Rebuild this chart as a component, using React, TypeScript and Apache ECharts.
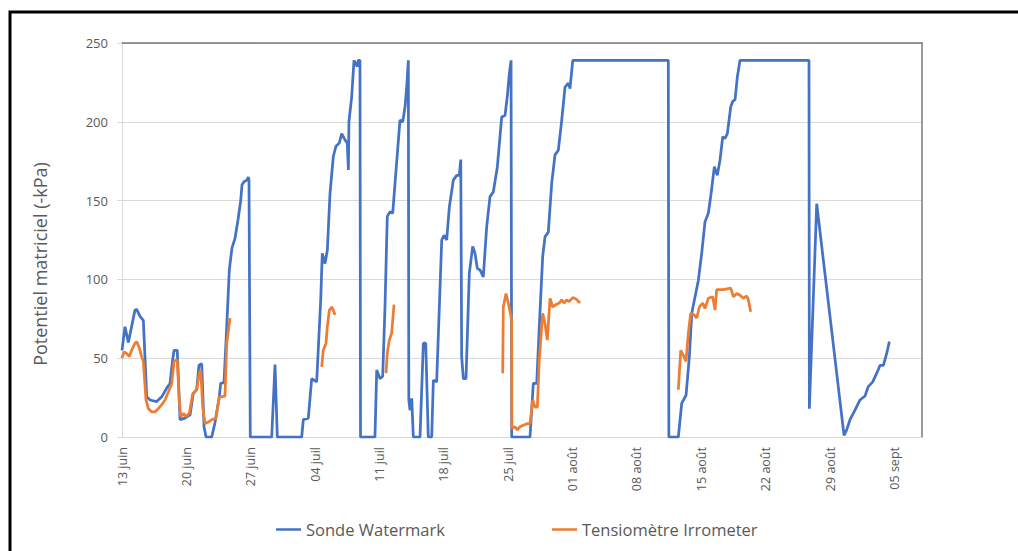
import React, { useEffect, useRef } from "react";
import * as echarts from "echarts";

// Week tick labels, one every 7 days starting 13 June
const dateLabels = [
  "13 juin", "20 juin", "27 juin", "04 juil", "11 juil", "18 juil", "25 juil",
  "01 août", "08 août", "15 août", "22 août", "29 août", "05 sept",
];

// Watermark sensor: time in days since 13 June, matric potential in -kPa
const watermarkDays = [
  0.0, 0.33, 0.69, 1.41, 1.6, 1.96, 2.32, 2.69, 3.05, 3.77, 4.32, 4.86, 5.22, 5.51, 5.66, 6.01,
  6.31, 6.85, 7.4, 7.75, 8.12, 8.37, 8.67, 8.92, 9.14, 9.76, 10.11, 10.58, 10.73, 11.09, 11.39,
  11.67, 11.96, 12.29, 12.62, 12.91, 13.05, 13.27, 13.59, 13.74, 13.81, 13.95, 16.28, 16.64,
  16.89, 19.54, 19.72, 20.26, 20.63, 21.17, 21.61, 21.78, 22.08, 22.33, 22.62, 22.98, 23.27,
  23.63, 23.89, 24.25, 24.5, 24.62, 24.68, 24.98, 25.23, 25.59, 25.7, 25.88, 25.94, 27.51,
  27.7, 28.06, 28.35, 28.6, 28.85, 29.15, 29.44, 29.69, 30.23, 30.53, 30.78, 30.96, 31.14,
  31.19, 31.32, 31.51, 31.68, 32.41, 32.77, 33.03, 33.31, 33.68, 33.86, 34.22, 34.51, 34.77,
  35.02, 35.31, 35.6, 36.03, 36.4, 36.68, 36.84, 36.94, 37.12, 37.41, 37.77, 38.14, 38.39,
  38.64, 38.93, 39.29, 39.66, 40.02, 40.38, 40.82, 41.29, 41.65, 41.9, 42.12, 42.31, 42.38,
  44.37, 44.73, 45.1, 45.38, 45.75, 46.0, 46.36, 46.73, 47.09, 47.45, 47.82, 48.18, 48.54,
  48.72, 49.02, 59.41, 59.47, 60.5, 60.87, 61.34, 61.7, 61.96, 62.32, 62.68, 63.04, 63.4,
  63.76, 64.02, 64.42, 64.74, 65.04, 65.33, 65.58, 65.83, 66.2, 66.42, 66.67, 66.92, 67.21,
  74.71, 74.75, 75.55, 78.52, 78.81, 79.17, 79.71, 80.26, 80.8, 81.16, 81.64, 82.08, 82.44,
  82.8, 83.16, 83.45,
];
const watermarkKpa = [
  55, 70, 60, 80.5, 81, 76.5, 74, 25.5, 23.5, 22.5, 25.5, 31, 34, 49, 55, 55,
  11, 12, 14, 27.5, 30, 45.5, 46.5, 6.5, 0, 0, 9, 25.5, 34, 34.5, 70,
  106, 120, 126, 138, 150, 160, 162, 163, 165, 163, 0, 0, 46,
  0, 0, 11, 12, 37, 35, 87, 116.5, 110, 118.5, 154.5, 178, 184.5,
  186.5, 192.5, 188.5, 186.5, 169.5, 200, 216, 239, 235, 239, 239, 0, 0,
  42.5, 37, 38.5, 82.5, 140, 143, 142, 161, 201, 200, 209.5, 222, 239,
  23.5, 17, 24.5, 0, 0, 59.5, 59.5, 0, 0, 36, 35, 82.5, 125,
  128, 125, 146, 163, 166, 166, 176, 51, 37, 37, 104, 121, 116.5,
  107, 106, 101.5, 133.5, 152.5, 155.5, 171.5, 203, 204, 216, 230.5, 239, 0,
  0, 34, 34, 70, 114.5, 127, 130, 161, 179, 182, 201, 222, 224.5,
  221, 239, 239, 0, 0, 21.5, 26.5, 51, 78.5, 89, 99.5, 116.5, 136.5,
  142, 152.5, 171.5, 166, 176, 190.5, 189.5, 192.5, 209.5, 213, 214, 228.5, 239,
  239, 18, 148, 1, 4.5, 11, 17, 23.5, 26, 32, 35, 40.5, 45.5,
  45.5, 53, 60.5,
];

// Irrometer tensiometer: same time base, null marks a break in the record
const irrometerDays = [
  0.0, 0.22, 0.51, 0.79, 1.05, 1.41, 1.6, 1.88, 2.14, 2.32, 2.61, 2.86, 3.23, 3.59, 3.95, 4.32,
  4.68, 5.04, 5.41, 5.66, 6.01, 6.23, 6.38, 6.67, 6.96, 7.32, 7.69, 8.12, 8.41, 8.56, 8.78,
  9.03, 9.39, 9.76, 10.22, 10.58, 10.73, 11.2, 11.39, 11.75,
  16.0,
  21.72, 21.89, 22.19, 22.33, 22.55, 22.81, 22.98, 23.16,
  26.0,
  28.71, 28.85, 29.07, 29.33, 29.58,
  35.0,
  41.4, 41.47, 41.76, 42.01, 42.38, 42.4, 42.74, 42.99, 43.28, 43.64, 44.08, 44.37, 44.67,
  44.92, 45.17, 45.38, 45.75, 46.0, 46.25, 46.55, 46.84, 47.2, 47.56, 47.82, 48.07, 48.36,
  48.65, 49.02, 49.37, 49.81,
  55.0,
  60.5, 60.76, 61.04, 61.34, 61.59, 61.85, 62.21, 62.5, 62.79, 63.15, 63.4, 63.76, 64.24,
  64.49, 64.67, 65.39, 66.2, 66.49, 66.86, 67.21, 67.57, 67.94, 68.12, 68.37,
];
const irrometerKpa: (number | null)[] = [
  50, 54, 53, 51, 55, 59.5, 60.5, 56.5, 51, 48, 23.5, 18, 16, 16, 18, 20.5,
  23.5, 28.5, 34, 48, 49, 23.5, 13, 15, 13, 15, 27.5, 30, 40.5, 42.5, 19,
  8.5, 9.5, 11, 12, 25.5, 25.5, 26, 59.5, 75.5,
  null,
  44.5, 55, 59.5, 70, 80.5, 82.5, 80.5, 77.5,
  null,
  40.5, 53, 61.5, 66, 84,
  null,
  40.5, 82.5, 91, 85, 74, 5.5, 6.5, 4.5, 6.5, 7.5, 8.5, 8.5, 23.5,
  19, 19, 49, 78.5, 72, 61.5, 88, 82.5, 84, 85, 87, 85, 87,
  86, 88.5, 87.5, 85,
  null,
  30, 55, 52, 48, 66, 78.5, 77.5, 75.5, 82.5, 85, 81.5, 88, 89,
  80.5, 93.5, 93.5, 94.5, 89, 91, 90, 88, 89.5, 87, 79.5,
];

const seriesNames = ["Sonde Watermark", "Tensiomètre Irrometer"];
const axisTitle = "Potentiel matriciel (-kPa)";

const FONT = "'Open Sans', 'Noto Sans', sans-serif";
const TEXT = "#595959";
const BLUE = "#4472C4";
const ORANGE = "#ED7D31";

export default function App() {
  const ref = useRef<HTMLDivElement>(null);

  useEffect(() => {
    const chart = echarts.init(ref.current!, null, { renderer: "svg" });

    const watermark = watermarkDays.map((d, i) => [d, watermarkKpa[i]]);
    const irrometer = irrometerDays.map((d, i) => [d, irrometerKpa[i]]);

    const xMin = 0;
    const xMax = 87;

    const legendText = { color: TEXT, fontFamily: FONT, fontSize: 16.5 };

    chart.setOption({
      animation: false,
      backgroundColor: "#ffffff",
      grid: { left: 122, right: 96, top: 43, bottom: 114, containLabel: false },
      xAxis: [
        {
          type: "value",
          min: xMin,
          max: xMax,
          interval: 7,
          axisLine: { show: true, lineStyle: { color: "#d9d9d9", width: 1 } },
          axisTick: { show: false },
          splitLine: { show: false },
          axisLabel: {
            rotate: 90,
            margin: 10,
            color: TEXT,
            fontFamily: FONT,
            fontSize: 12.5,
            showMaxLabel: false,
            formatter: (v: number) =>
              v % 7 === 0 && dateLabels[v / 7] !== undefined ? dateLabels[v / 7] : "",
          },
        },
        {
          type: "value",
          position: "top",
          min: xMin,
          max: xMax,
          axisLine: { show: true, onZero: false, lineStyle: { color: "#7a7a7a", width: 1.5 } },
          axisTick: { show: false },
          axisLabel: { show: false },
          splitLine: { show: false },
        },
      ],
      yAxis: [
        {
          type: "value",
          min: 0,
          max: 250,
          interval: 50,
          axisLine: { show: true, lineStyle: { color: "#d9d9d9", width: 1 } },
          axisTick: { show: true, length: 5, lineStyle: { color: "#d9d9d9" } },
          splitLine: { show: true, lineStyle: { color: "#d9d9d9", width: 1 } },
          axisLabel: { color: TEXT, fontFamily: FONT, fontSize: 13, margin: 14 },
        },
        {
          type: "value",
          position: "right",
          min: 0,
          max: 250,
          axisLine: { show: true, onZero: false, lineStyle: { color: "#7a7a7a", width: 1.5 } },
          axisTick: { show: false },
          axisLabel: { show: false },
          splitLine: { show: false },
        },
      ],
      legend: [
        {
          data: [seriesNames[0]],
          left: 276,
          top: 521,
          padding: 0,
          icon: "rect",
          itemWidth: 25,
          itemHeight: 2.5,
          textStyle: legendText,
        },
        {
          data: [seriesNames[1]],
          left: 552,
          top: 521,
          padding: 0,
          icon: "rect",
          itemWidth: 25,
          itemHeight: 2.5,
          textStyle: legendText,
        },
      ],
      graphic: [
        {
          type: "polyline",
          shape: { points: [[10, 560], [10, 12], [1030, 12]] },
          style: { stroke: "#000000", lineWidth: 3, fill: "none" },
          silent: true,
        },
        {
          type: "text",
          x: 40,
          y: 264,
          rotation: Math.PI / 2,
          style: {
            text: axisTitle,
            fill: TEXT,
            fontFamily: FONT,
            fontSize: 18,
            align: "center",
            verticalAlign: "middle",
          },
          silent: true,
        },
      ],
      series: [
        {
          name: seriesNames[0],
          type: "line",
          xAxisIndex: 0,
          yAxisIndex: 0,
          data: watermark,
          showSymbol: false,
          symbol: "none",
          color: BLUE,
          lineStyle: { color: BLUE, width: 2.75 },
        },
        {
          name: seriesNames[1],
          type: "line",
          xAxisIndex: 0,
          yAxisIndex: 0,
          data: irrometer,
          connectNulls: false,
          showSymbol: false,
          symbol: "none",
          color: ORANGE,
          lineStyle: { color: ORANGE, width: 2.75 },
        },
      ],
    });

    return () => chart.dispose();
  }, []);

  return (
    <div
      ref={ref}
      style={{ position: "fixed", left: 0, top: 0, width: 1018, height: 551, background: "#ffffff" }}
    />
  );
}
